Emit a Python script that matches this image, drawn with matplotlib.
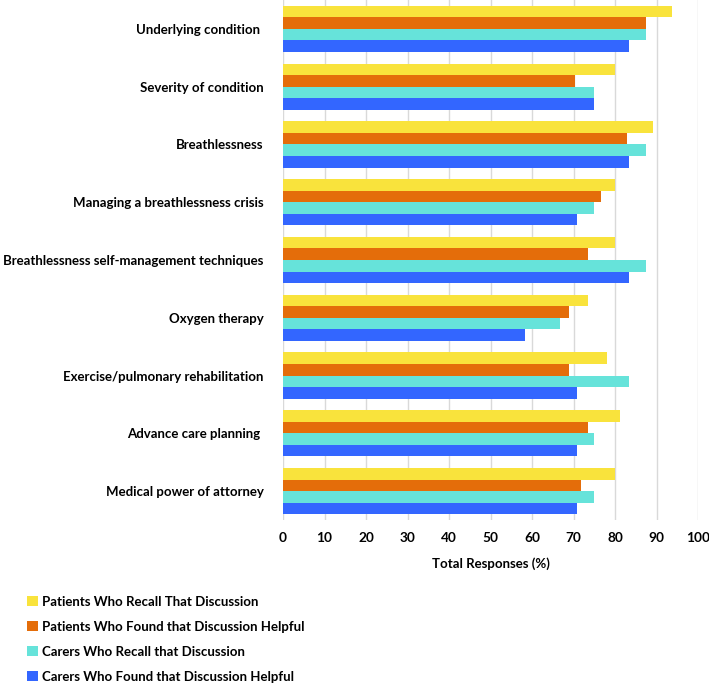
import numpy as np
import matplotlib.pyplot as plt

plt.rcParams['font.family'] = ['Lato', 'DejaVu Sans']

categories = ['Underlying condition ', 'Severity of condition', 'Breathlessness',
              'Managing a breathlessness crisis', 'Breathlessness self-management techniques',
              'Oxygen therapy', 'Exercise/pulmonary rehabilitation', 'Advance care planning ',
              'Medical power of attorney']
series_names = ['Patients Who Recall That Discussion',
                'Patients Who Found that Discussion Helpful',
                'Carers Who Recall that Discussion',
                'Carers Who Found that Discussion Helpful']
patients_recall = [93.8, 80.0, 89.1, 80.0, 80.0, 73.4, 78.1, 81.3, 80.0]
patients_helpful = [87.5, 70.3, 82.8, 76.6, 73.4, 68.8, 68.8, 73.4, 71.9]
carers_recall = [87.5, 75.0, 87.5, 75.0, 87.5, 66.7, 83.3, 75.0, 75.0]
carers_helpful = [83.3, 75.0, 83.3, 70.8, 83.3, 58.3, 70.8, 70.8, 70.8]
colors = ['#f9e33c', '#e46d0a', '#66e3da', '#3366ff']

fig = plt.figure(figsize=(7.09, 6.86), dpi=100)
ax = fig.add_axes([283/709, 1 - 520/686, (698-283)/709, 520/686])

y = np.arange(len(categories))
h = 0.2
allvals = [patients_recall, patients_helpful, carers_recall, carers_helpful]
for i, vals in enumerate(allvals):
    ax.barh(y - 0.3 + i*h, vals, height=h, color=colors[i], label=series_names[i], zorder=3)

ax.set_xlim(0, 100)
ax.set_ylim(len(categories) - 0.5, -0.5)
ax.set_xticks(range(0, 101, 10))
ax.set_yticks(y)
ax.set_yticklabels(categories, fontweight='bold', fontsize=9.5)
ax.tick_params(axis='y', length=0, pad=14)
ax.tick_params(axis='x', length=0, pad=9, labelsize=9.8)
for lab in ax.get_xticklabels():
    lab.set_fontweight('bold')
ax.grid(axis='x', color='#d9d9d9', linewidth=1, zorder=0)
for s in ax.spines.values():
    s.set_visible(False)
ax.set_xlabel('Total Responses (%)', fontweight='bold', fontsize=9.5, labelpad=9)

fig.legend(loc='upper left', bbox_to_anchor=(27/709, 1 - 596/686), frameon=False,
           prop={'weight': 'bold', 'size': 9.5}, handlelength=0.8, handleheight=0.8,
           handletextpad=0.35, labelspacing=0.98, borderpad=0, borderaxespad=0)

fig.savefig('out.png', dpi=100)
